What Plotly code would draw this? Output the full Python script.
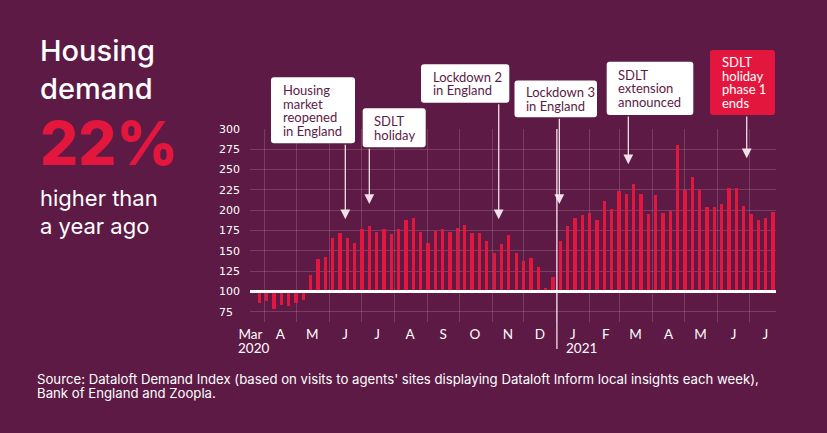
import plotly.graph_objects as go
import pandas as pd

# ---------------- data ----------------
weeks = list(range(71))
demand = [86, 88, 79, 84, 82, 85.5, 90, 120, 140, 142.5,
          166, 172, 166, 160, 177, 181, 173, 177, 171, 177,
          188, 190, 173, 160, 174, 177, 173, 178.5, 182, 172,
          172, 162, 148, 158, 170, 147, 137, 141, 130, 104,
          118, 162, 180.5, 191, 194, 197, 188, 211.5, 202, 224,
          220.5, 232, 220.5, 195, 218.5, 197, 199, 280.5, 225.5, 241,
          225.5, 204, 204, 208, 227, 227.5, 205, 196, 187.5, 191, 198]
month_labels = ["Mar", "A", "M", "J", "J", "A", "S", "O", "N", "D",
                "J", "F", "M", "A", "M", "J", "J"]
year_labels = ["2020", "2021"]
y_ticks = [75, 100, 125, 150, 175, 200, 225, 250, 275, 300]
event_labels = ["Housing<br>market<br>reopened<br>in England",
                "SDLT<br>holiday",
                "Lockdown 2<br>in England",
                "Lockdown 3<br>in England",
                "SDLT<br>extension<br>announced",
                "SDLT<br>holiday<br>phase 1<br>ends"]
event_weeks = [11.72, 14.99, 32.62, 40.88, 50.28, 66.41]

# ---------------- style ----------------
BG = "#5D1A45"
RED = "#E3173D"
WHITE = "#FFFFFF"
GRID = "rgba(255,255,255,0.16)"
ARROW = "rgba(255,240,246,0.92)"
FONT = "Lato"
FONT2 = "Inter"
W, H = 827, 433
L, R, T, B = 250, 51, 129, 111
PW, PH = W - L - R, H - T - B
Y0, Y1 = 62.5, 300
X2_RANGE = ["2020-03-18 13:00", "2021-07-25 22:00"]


def fx(px):
    return (px - L) / PW


def fy(py):
    return (H - B - py) / PH


def val(py):
    return Y1 - (py - T) * (Y1 - Y0) / PH


month_starts = pd.date_range("2020-03-01", periods=17, freq="MS")
month_mids = list(month_starts + pd.Timedelta(days=15))
# first (partial) month label sits at the left edge of the plot
month_mids[0] = pd.Timestamp("2020-03-19")

fig = go.Figure()
fig.add_trace(go.Bar(x=weeks, y=[v - 100 for v in demand], base=100,
                     width=0.45, marker=dict(color=RED, line=dict(width=0)),
                     hoverinfo="skip"))
fig.add_trace(go.Scatter(x=month_mids, y=[None] * len(month_mids),
                         xaxis="x2", yaxis="y", mode="markers",
                         showlegend=False, hoverinfo="skip"))

fig.update_layout(
    width=W, height=H,
    margin=dict(l=L, r=R, t=T, b=B, pad=0),
    paper_bgcolor=BG, plot_bgcolor=BG,
    showlegend=False,
    bargap=0,
    xaxis=dict(range=[-1.267, 70.40], visible=False, fixedrange=True),
    xaxis2=dict(type="date", overlaying="x", anchor="y", side="bottom",
                range=X2_RANGE,
                tickmode="array", tickvals=month_mids,
                ticktext=month_labels, showgrid=False, zeroline=False,
                showline=False, ticks="", ticklabelstandoff=2,
                tickfont=dict(family=FONT, size=13.5, color=WHITE),
                minor=dict(tickmode="array", tickvals=list(month_starts[1:]),
                           showgrid=True, gridcolor=GRID, gridwidth=1, ticks="")),
    yaxis=dict(range=[Y0, Y1], tickmode="array", tickvals=y_ticks,
               ticktext=[("%d" % t) if t >= 100 else ("%d\u2007" % t) for t in y_ticks],
               showgrid=True, gridcolor=GRID, gridwidth=1, zeroline=False,
               showline=False, ticks="", ticklabelstandoff=9,
               tickfont=dict(family="DejaVu Sans", size=11, color=WHITE)),
)

# white baseline at 100
fig.add_shape(type="line", xref="paper", yref="y", x0=0, x1=1, y0=100, y1=100,
              line=dict(color=WHITE, width=3), layer="above")
# separator for 2021
fig.add_shape(type="line", xref="x2", yref="paper", x0="2021-01-01", x1="2021-01-01",
              y0=fy(349), y1=1, line=dict(color=ARROW, width=1.3), layer="above")

# year labels
fig.add_annotation(x=month_mids[0], xref="x2", y=fy(348), yref="paper", text=year_labels[0],
                   showarrow=False, xanchor="center", yanchor="middle", xshift=3,
                   font=dict(family=FONT, size=13.5, color=WHITE))
fig.add_annotation(x=month_mids[10], xref="x2", y=fy(348), yref="paper", text=year_labels[1],
                   showarrow=False, xanchor="center", yanchor="middle", xshift=9,
                   font=dict(family=FONT, size=13.5, color=WHITE))


def rrect(x0, y0, x1, y1, r=3):
    pts = [("M", x0 + r, y0), ("L", x1 - r, y0), ("Q", x1, y0, x1, y0 + r),
           ("L", x1, y1 - r), ("Q", x1, y1, x1 - r, y1), ("L", x0 + r, y1),
           ("Q", x0, y1, x0, y1 - r), ("L", x0, y0 + r), ("Q", x0, y0, x0 + r, y0)]
    s = ""
    for p in pts:
        c = p[0]
        coords = p[1:]
        parts = []
        for i in range(0, len(coords), 2):
            parts.append("%.5f,%.5f" % (fx(coords[i]), fy(coords[i + 1])))
        s += c + " " + " ".join(parts) + " "
    return s + "Z"


# event boxes: (left, top, right, bottom) in px, fill, text colour
boxes = [(271, 77.3, 355, 143.3), (362.7, 108.3, 425.7, 147.3),
         (421, 64.3, 509.3, 102.7), (514.5, 80.5, 597, 117.3),
         (606.7, 61.7, 693.3, 115), (710, 50, 775, 115)]
tips_py = [219.3, 204, 219.3, 204, 164.3, 158.3]
fills = [WHITE, WHITE, WHITE, WHITE, WHITE, RED]
txtcol = [BG, BG, BG, BG, BG, WHITE]

for lab, wk, bx, tp, fc, tc in zip(event_labels, event_weeks, boxes, tips_py, fills, txtcol):
    x0, y0, x1, y1 = bx
    fig.add_shape(type="path", xref="paper", yref="paper", path=rrect(x0, y0, x1, y1),
                  fillcolor=fc, line=dict(width=0), layer="above")
    lines = lab.split("<br>")
    mid = (y0 + y1) / 2
    n = len(lines)
    for i, ln in enumerate(lines):
        cy = mid + (i - (n - 1) / 2) * 13.5
        fig.add_annotation(x=fx(x0 + 9.5), y=fy(cy), xref="paper", yref="paper",
                           text=ln, showarrow=False, xanchor="left", yanchor="middle",
                           font=dict(family=FONT, size=13, color=tc))
    fig.add_annotation(x=wk, y=val(tp), xref="x", yref="y",
                       ax=wk, ay=val(y1), axref="x", ayref="y",
                       text="", showarrow=True, arrowhead=2, arrowsize=1.5,
                       arrowwidth=1.3, arrowcolor=ARROW, standoff=0)

# left headline panel
left_texts = [("Housing", 51, 29, WHITE, 500),
              ("demand", 89, 29, WHITE, 500),
              ("22%", 143, 60, RED, 800),
              ("higher than", 198, 22, WHITE, 400),
              ("a year ago", 226, 22, WHITE, 400)]
for txt, cy, sz, col, wt in left_texts:
    fig.add_annotation(x=fx(38), y=fy(cy), xref="paper", yref="paper", text=txt,
                       showarrow=False, xanchor="left", yanchor="middle",
                       font=dict(family=FONT2, size=sz, color=col, weight=wt))

# source
src = ["Source: Dataloft Demand Index (based on visits to agents' sites displaying Dataloft Inform local insights each week),",
       "Bank of England and Zoopla."]
for txt, cy in zip(src, [379, 393]):
    fig.add_annotation(x=fx(35), y=fy(cy), xref="paper", yref="paper", text=txt,
                       showarrow=False, xanchor="left", yanchor="middle",
                       font=dict(family=FONT2, size=13.2, color=WHITE))

fig.write_html("out.html")
